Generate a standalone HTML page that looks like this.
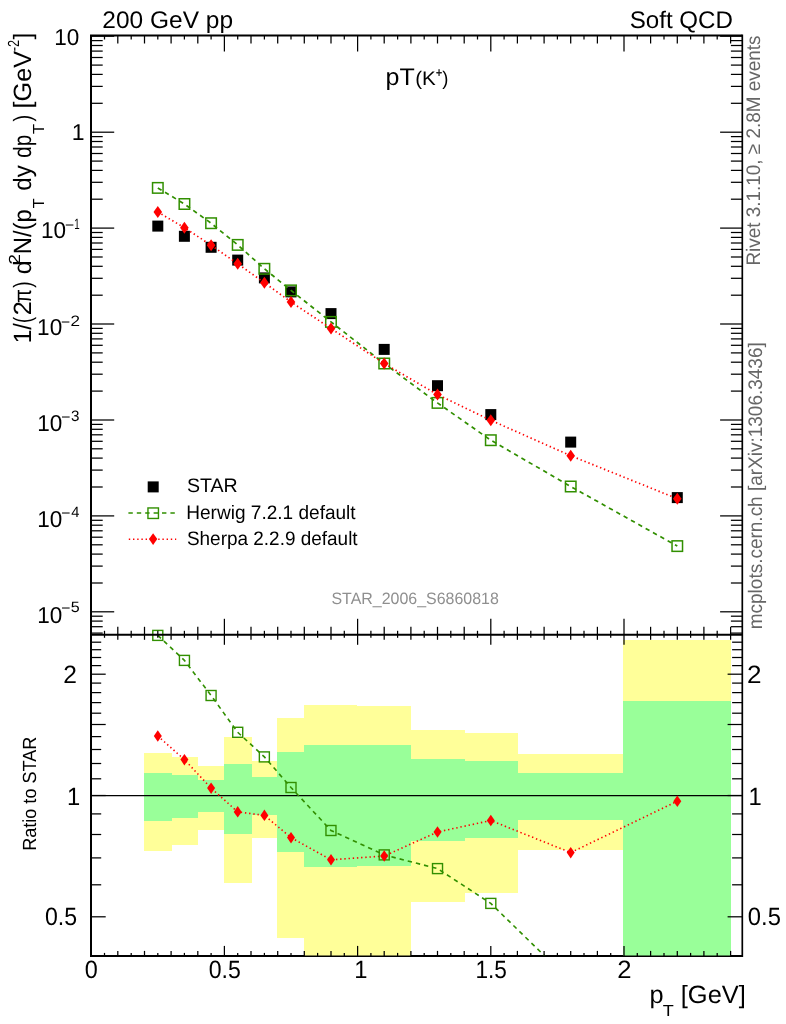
<!DOCTYPE html>
<html><head><meta charset="utf-8"><title>pT(K+)</title>
<style>html,body{margin:0;padding:0;background:#fff}svg{display:block;will-change:transform;transform:translateZ(0);text-rendering:geometricPrecision}</style></head>
<body>
<svg width="786" height="1024" viewBox="0 0 786 1024" font-family='"Liberation Sans", Arial, Helvetica, sans-serif'>
<rect width="786" height="1024" fill="#fff"/>
<defs><clipPath id="cr"><rect x="91.2" y="634.8" width="650.9" height="321.1"/></clipPath></defs>
<line x1="91.2" x2="742.1" y1="955.9" y2="955.9" stroke="#000" stroke-width="2"/>
<defs><clipPath id="cb"><rect x="91.2" y="634.8" width="650.9" height="321.40000000000003"/></clipPath></defs>
<g clip-path="url(#cb)" shape-rendering="crispEdges">
<rect x="144.0" y="753.1" width="28.0" height="97.7" fill="#ffff99"/>
<rect x="172.0" y="756.6" width="26.0" height="88.2" fill="#ffff99"/>
<rect x="198.0" y="766.2" width="26.0" height="63.7" fill="#ffff99"/>
<rect x="224.0" y="736.8" width="28.0" height="146.6" fill="#ffff99"/>
<rect x="252.0" y="760.7" width="25.0" height="77.5" fill="#ffff99"/>
<rect x="277.0" y="717.6" width="27.0" height="220.5" fill="#ffff99"/>
<rect x="304.0" y="705.2" width="53.0" height="285.0" fill="#ffff99"/>
<rect x="357.0" y="706.0" width="54.0" height="280.6" fill="#ffff99"/>
<rect x="411.0" y="729.5" width="54.0" height="172.3" fill="#ffff99"/>
<rect x="465.0" y="732.7" width="53.0" height="160.6" fill="#ffff99"/>
<rect x="518.0" y="753.7" width="105.0" height="96.0" fill="#ffff99"/>
<rect x="623.0" y="639.7" width="108.0" height="679.8" fill="#ffff99"/>
<rect x="144.0" y="772.9" width="28.0" height="47.9" fill="#99ff99"/>
<rect x="172.0" y="774.8" width="26.0" height="43.4" fill="#99ff99"/>
<rect x="198.0" y="780.1" width="26.0" height="31.6" fill="#99ff99"/>
<rect x="224.0" y="763.6" width="28.0" height="70.2" fill="#99ff99"/>
<rect x="252.0" y="777.1" width="25.0" height="38.3" fill="#99ff99"/>
<rect x="277.0" y="752.1" width="27.0" height="100.3" fill="#99ff99"/>
<rect x="304.0" y="744.5" width="53.0" height="122.4" fill="#99ff99"/>
<rect x="357.0" y="745.0" width="54.0" height="121.0" fill="#99ff99"/>
<rect x="411.0" y="759.3" width="54.0" height="81.2" fill="#99ff99"/>
<rect x="465.0" y="761.2" width="53.0" height="76.3" fill="#99ff99"/>
<rect x="518.0" y="773.2" width="105.0" height="47.1" fill="#99ff99"/>
<rect x="623.0" y="700.7" width="108.0" height="314.8" fill="#99ff99"/>
</g>
<rect x="152.3" y="220.6" width="11" height="11" fill="#000"/>
<rect x="178.9" y="230.8" width="11" height="11" fill="#000"/>
<rect x="205.6" y="241.8" width="11" height="11" fill="#000"/>
<rect x="232.2" y="254.6" width="11" height="11" fill="#000"/>
<rect x="258.9" y="272.4" width="11" height="11" fill="#000"/>
<rect x="285.5" y="286.4" width="11" height="11" fill="#000"/>
<rect x="325.5" y="308.1" width="11" height="11" fill="#000"/>
<rect x="378.7" y="343.9" width="11" height="11" fill="#000"/>
<rect x="432.0" y="380.2" width="11" height="11" fill="#000"/>
<rect x="485.3" y="409.1" width="11" height="11" fill="#000"/>
<rect x="565.2" y="436.6" width="11" height="11" fill="#000"/>
<rect x="671.8" y="492.1" width="11" height="11" fill="#000"/>
<polyline points="157.8,187.9 184.4,204.0 211.1,223.2 237.7,244.9 264.4,268.8 291.0,290.4 331.0,321.9 384.2,363.5 437.5,402.9 490.8,440.2 570.7,486.5 677.3,546.1" fill="none" stroke="#318f00" stroke-width="1.7" stroke-dasharray="4.4,4"/>
<rect x="152.55" y="182.65" width="10.5" height="10.5" fill="none" stroke="#318f00" stroke-width="1.5"/>
<rect x="179.19" y="198.75" width="10.5" height="10.5" fill="none" stroke="#318f00" stroke-width="1.5"/>
<rect x="205.83" y="217.95" width="10.5" height="10.5" fill="none" stroke="#318f00" stroke-width="1.5"/>
<rect x="232.47" y="239.65" width="10.5" height="10.5" fill="none" stroke="#318f00" stroke-width="1.5"/>
<rect x="259.11" y="263.55" width="10.5" height="10.5" fill="none" stroke="#318f00" stroke-width="1.5"/>
<rect x="285.75" y="285.15" width="10.5" height="10.5" fill="none" stroke="#318f00" stroke-width="1.5"/>
<rect x="325.71" y="316.65" width="10.5" height="10.5" fill="none" stroke="#318f00" stroke-width="1.5"/>
<rect x="378.99" y="358.25" width="10.5" height="10.5" fill="none" stroke="#318f00" stroke-width="1.5"/>
<rect x="432.27" y="397.65" width="10.5" height="10.5" fill="none" stroke="#318f00" stroke-width="1.5"/>
<rect x="485.55" y="434.95" width="10.5" height="10.5" fill="none" stroke="#318f00" stroke-width="1.5"/>
<rect x="565.47" y="481.25" width="10.5" height="10.5" fill="none" stroke="#318f00" stroke-width="1.5"/>
<rect x="672.03" y="540.85" width="10.5" height="10.5" fill="none" stroke="#318f00" stroke-width="1.5"/>
<polyline points="157.8,212.0 184.4,227.7 211.1,245.2 237.7,263.8 264.4,282.7 291.0,302.0 331.0,328.5 384.2,363.5 437.5,394.6 490.8,420.3 570.7,455.7 677.3,498.7" fill="none" stroke="#ff0000" stroke-width="1.7" stroke-dasharray="1.4,2.8"/>
<path d="M157.8 206.0L162.1 212.0L157.8 218.0L153.5 212.0Z" fill="#ff0000"/>
<path d="M184.4 221.7L188.7 227.7L184.4 233.7L180.1 227.7Z" fill="#ff0000"/>
<path d="M211.1 239.2L215.4 245.2L211.1 251.2L206.8 245.2Z" fill="#ff0000"/>
<path d="M237.7 257.8L242.0 263.8L237.7 269.8L233.4 263.8Z" fill="#ff0000"/>
<path d="M264.4 276.7L268.7 282.7L264.4 288.7L260.1 282.7Z" fill="#ff0000"/>
<path d="M291.0 296.0L295.3 302.0L291.0 308.0L286.7 302.0Z" fill="#ff0000"/>
<path d="M331.0 322.5L335.3 328.5L331.0 334.5L326.7 328.5Z" fill="#ff0000"/>
<path d="M384.2 357.5L388.5 363.5L384.2 369.5L379.9 363.5Z" fill="#ff0000"/>
<path d="M437.5 388.6L441.8 394.6L437.5 400.6L433.2 394.6Z" fill="#ff0000"/>
<path d="M490.8 414.3L495.1 420.3L490.8 426.3L486.5 420.3Z" fill="#ff0000"/>
<path d="M570.7 449.7L575.0 455.7L570.7 461.7L566.4 455.7Z" fill="#ff0000"/>
<path d="M677.3 492.7L681.6 498.7L677.3 504.7L673.0 498.7Z" fill="#ff0000"/>
<line x1="91.2" x2="742.1" y1="795.6" y2="795.6" stroke="#000" stroke-width="1.3"/>
<g clip-path="url(#cr)">
<polyline points="157.8,635.4 184.4,660.4 211.1,695.5 237.7,732.3 264.4,756.9 291.0,787.5 331.0,830.5 384.2,854.9 437.5,868.6 490.8,903.4 570.7,981.4 677.3,998.6" fill="none" stroke="#318f00" stroke-width="1.6" stroke-dasharray="4.4,4"/>
<polyline points="157.8,736.0 184.4,759.6 211.1,788.1 237.7,811.9 264.4,815.4 291.0,837.6 331.0,859.8 384.2,856.0 437.5,832.0 490.8,820.5 570.7,852.6 677.3,801.2" fill="none" stroke="#ff0000" stroke-width="1.6" stroke-dasharray="1.4,2.8"/>
</g>
<rect x="152.80" y="630.40" width="10" height="10" fill="none" stroke="#318f00" stroke-width="1.4"/>
<rect x="179.44" y="655.40" width="10" height="10" fill="none" stroke="#318f00" stroke-width="1.4"/>
<rect x="206.08" y="690.50" width="10" height="10" fill="none" stroke="#318f00" stroke-width="1.4"/>
<rect x="232.72" y="727.30" width="10" height="10" fill="none" stroke="#318f00" stroke-width="1.4"/>
<rect x="259.36" y="751.90" width="10" height="10" fill="none" stroke="#318f00" stroke-width="1.4"/>
<rect x="286.00" y="782.50" width="10" height="10" fill="none" stroke="#318f00" stroke-width="1.4"/>
<rect x="325.96" y="825.50" width="10" height="10" fill="none" stroke="#318f00" stroke-width="1.4"/>
<rect x="379.24" y="849.90" width="10" height="10" fill="none" stroke="#318f00" stroke-width="1.4"/>
<rect x="432.52" y="863.60" width="10" height="10" fill="none" stroke="#318f00" stroke-width="1.4"/>
<rect x="485.80" y="898.40" width="10" height="10" fill="none" stroke="#318f00" stroke-width="1.4"/>
<path d="M157.8 730.2L161.8 736.0L157.8 741.8L153.8 736.0Z" fill="#ff0000"/>
<path d="M184.4 753.9L188.4 759.6L184.4 765.4L180.4 759.6Z" fill="#ff0000"/>
<path d="M211.1 782.4L215.1 788.1L211.1 793.9L207.1 788.1Z" fill="#ff0000"/>
<path d="M237.7 806.1L241.7 811.9L237.7 817.6L233.7 811.9Z" fill="#ff0000"/>
<path d="M264.4 809.6L268.4 815.4L264.4 821.1L260.4 815.4Z" fill="#ff0000"/>
<path d="M291.0 831.9L295.0 837.6L291.0 843.4L287.0 837.6Z" fill="#ff0000"/>
<path d="M331.0 854.0L335.0 859.8L331.0 865.5L327.0 859.8Z" fill="#ff0000"/>
<path d="M384.2 850.2L388.2 856.0L384.2 861.8L380.2 856.0Z" fill="#ff0000"/>
<path d="M437.5 826.2L441.5 832.0L437.5 837.8L433.5 832.0Z" fill="#ff0000"/>
<path d="M490.8 814.8L494.8 820.5L490.8 826.2L486.8 820.5Z" fill="#ff0000"/>
<path d="M570.7 846.9L574.7 852.6L570.7 858.4L566.7 852.6Z" fill="#ff0000"/>
<path d="M677.3 795.5L681.3 801.2L677.3 807.0L673.3 801.2Z" fill="#ff0000"/>
<g stroke="#000" fill="none">
<path d="M91 956.9V35.5H742.1" stroke-width="2"/>
<line x1="742.3" x2="742.3" y1="34.5" y2="956.9" stroke-width="1.7"/>
<line x1="91.2" x2="742.1" y1="956.25" y2="956.25" stroke-width="1.3"/>
<line x1="91.2" x2="742.1" y1="634.8" y2="634.8" stroke-width="2"/>
<line x1="91.2" x2="91.2" y1="35.5" y2="51.5" stroke-width="1.25"/>
<line x1="91.2" x2="91.2" y1="618.8" y2="644.8" stroke-width="1.25"/>
<line x1="91.2" x2="91.2" y1="955.9" y2="945.9" stroke-width="1.25"/>
<line x1="104.5" x2="104.5" y1="35.5" y2="39.5" stroke-width="1.25"/>
<line x1="104.5" x2="104.5" y1="630.8" y2="637.8" stroke-width="1.25"/>
<line x1="104.5" x2="104.5" y1="955.9" y2="952.9" stroke-width="1.25"/>
<line x1="117.8" x2="117.8" y1="35.5" y2="43.5" stroke-width="1.25"/>
<line x1="117.8" x2="117.8" y1="626.8" y2="639.8" stroke-width="1.25"/>
<line x1="117.8" x2="117.8" y1="955.9" y2="950.9" stroke-width="1.25"/>
<line x1="131.2" x2="131.2" y1="35.5" y2="39.5" stroke-width="1.25"/>
<line x1="131.2" x2="131.2" y1="630.8" y2="637.8" stroke-width="1.25"/>
<line x1="131.2" x2="131.2" y1="955.9" y2="952.9" stroke-width="1.25"/>
<line x1="144.5" x2="144.5" y1="35.5" y2="43.5" stroke-width="1.25"/>
<line x1="144.5" x2="144.5" y1="626.8" y2="639.8" stroke-width="1.25"/>
<line x1="144.5" x2="144.5" y1="955.9" y2="950.9" stroke-width="1.25"/>
<line x1="157.8" x2="157.8" y1="35.5" y2="39.5" stroke-width="1.25"/>
<line x1="157.8" x2="157.8" y1="630.8" y2="637.8" stroke-width="1.25"/>
<line x1="157.8" x2="157.8" y1="955.9" y2="952.9" stroke-width="1.25"/>
<line x1="171.1" x2="171.1" y1="35.5" y2="43.5" stroke-width="1.25"/>
<line x1="171.1" x2="171.1" y1="626.8" y2="639.8" stroke-width="1.25"/>
<line x1="171.1" x2="171.1" y1="955.9" y2="950.9" stroke-width="1.25"/>
<line x1="184.4" x2="184.4" y1="35.5" y2="39.5" stroke-width="1.25"/>
<line x1="184.4" x2="184.4" y1="630.8" y2="637.8" stroke-width="1.25"/>
<line x1="184.4" x2="184.4" y1="955.9" y2="952.9" stroke-width="1.25"/>
<line x1="197.8" x2="197.8" y1="35.5" y2="43.5" stroke-width="1.25"/>
<line x1="197.8" x2="197.8" y1="626.8" y2="639.8" stroke-width="1.25"/>
<line x1="197.8" x2="197.8" y1="955.9" y2="950.9" stroke-width="1.25"/>
<line x1="211.1" x2="211.1" y1="35.5" y2="39.5" stroke-width="1.25"/>
<line x1="211.1" x2="211.1" y1="630.8" y2="637.8" stroke-width="1.25"/>
<line x1="211.1" x2="211.1" y1="955.9" y2="952.9" stroke-width="1.25"/>
<line x1="224.4" x2="224.4" y1="35.5" y2="51.5" stroke-width="1.25"/>
<line x1="224.4" x2="224.4" y1="618.8" y2="644.8" stroke-width="1.25"/>
<line x1="224.4" x2="224.4" y1="955.9" y2="945.9" stroke-width="1.25"/>
<line x1="237.7" x2="237.7" y1="35.5" y2="39.5" stroke-width="1.25"/>
<line x1="237.7" x2="237.7" y1="630.8" y2="637.8" stroke-width="1.25"/>
<line x1="237.7" x2="237.7" y1="955.9" y2="952.9" stroke-width="1.25"/>
<line x1="251.0" x2="251.0" y1="35.5" y2="43.5" stroke-width="1.25"/>
<line x1="251.0" x2="251.0" y1="626.8" y2="639.8" stroke-width="1.25"/>
<line x1="251.0" x2="251.0" y1="955.9" y2="950.9" stroke-width="1.25"/>
<line x1="264.4" x2="264.4" y1="35.5" y2="39.5" stroke-width="1.25"/>
<line x1="264.4" x2="264.4" y1="630.8" y2="637.8" stroke-width="1.25"/>
<line x1="264.4" x2="264.4" y1="955.9" y2="952.9" stroke-width="1.25"/>
<line x1="277.7" x2="277.7" y1="35.5" y2="43.5" stroke-width="1.25"/>
<line x1="277.7" x2="277.7" y1="626.8" y2="639.8" stroke-width="1.25"/>
<line x1="277.7" x2="277.7" y1="955.9" y2="950.9" stroke-width="1.25"/>
<line x1="291.0" x2="291.0" y1="35.5" y2="39.5" stroke-width="1.25"/>
<line x1="291.0" x2="291.0" y1="630.8" y2="637.8" stroke-width="1.25"/>
<line x1="291.0" x2="291.0" y1="955.9" y2="952.9" stroke-width="1.25"/>
<line x1="304.3" x2="304.3" y1="35.5" y2="43.5" stroke-width="1.25"/>
<line x1="304.3" x2="304.3" y1="626.8" y2="639.8" stroke-width="1.25"/>
<line x1="304.3" x2="304.3" y1="955.9" y2="950.9" stroke-width="1.25"/>
<line x1="317.6" x2="317.6" y1="35.5" y2="39.5" stroke-width="1.25"/>
<line x1="317.6" x2="317.6" y1="630.8" y2="637.8" stroke-width="1.25"/>
<line x1="317.6" x2="317.6" y1="955.9" y2="952.9" stroke-width="1.25"/>
<line x1="331.0" x2="331.0" y1="35.5" y2="43.5" stroke-width="1.25"/>
<line x1="331.0" x2="331.0" y1="626.8" y2="639.8" stroke-width="1.25"/>
<line x1="331.0" x2="331.0" y1="955.9" y2="950.9" stroke-width="1.25"/>
<line x1="344.3" x2="344.3" y1="35.5" y2="39.5" stroke-width="1.25"/>
<line x1="344.3" x2="344.3" y1="630.8" y2="637.8" stroke-width="1.25"/>
<line x1="344.3" x2="344.3" y1="955.9" y2="952.9" stroke-width="1.25"/>
<line x1="357.6" x2="357.6" y1="35.5" y2="51.5" stroke-width="1.25"/>
<line x1="357.6" x2="357.6" y1="618.8" y2="644.8" stroke-width="1.25"/>
<line x1="357.6" x2="357.6" y1="955.9" y2="945.9" stroke-width="1.25"/>
<line x1="370.9" x2="370.9" y1="35.5" y2="39.5" stroke-width="1.25"/>
<line x1="370.9" x2="370.9" y1="630.8" y2="637.8" stroke-width="1.25"/>
<line x1="370.9" x2="370.9" y1="955.9" y2="952.9" stroke-width="1.25"/>
<line x1="384.2" x2="384.2" y1="35.5" y2="43.5" stroke-width="1.25"/>
<line x1="384.2" x2="384.2" y1="626.8" y2="639.8" stroke-width="1.25"/>
<line x1="384.2" x2="384.2" y1="955.9" y2="950.9" stroke-width="1.25"/>
<line x1="397.6" x2="397.6" y1="35.5" y2="39.5" stroke-width="1.25"/>
<line x1="397.6" x2="397.6" y1="630.8" y2="637.8" stroke-width="1.25"/>
<line x1="397.6" x2="397.6" y1="955.9" y2="952.9" stroke-width="1.25"/>
<line x1="410.9" x2="410.9" y1="35.5" y2="43.5" stroke-width="1.25"/>
<line x1="410.9" x2="410.9" y1="626.8" y2="639.8" stroke-width="1.25"/>
<line x1="410.9" x2="410.9" y1="955.9" y2="950.9" stroke-width="1.25"/>
<line x1="424.2" x2="424.2" y1="35.5" y2="39.5" stroke-width="1.25"/>
<line x1="424.2" x2="424.2" y1="630.8" y2="637.8" stroke-width="1.25"/>
<line x1="424.2" x2="424.2" y1="955.9" y2="952.9" stroke-width="1.25"/>
<line x1="437.5" x2="437.5" y1="35.5" y2="43.5" stroke-width="1.25"/>
<line x1="437.5" x2="437.5" y1="626.8" y2="639.8" stroke-width="1.25"/>
<line x1="437.5" x2="437.5" y1="955.9" y2="950.9" stroke-width="1.25"/>
<line x1="450.8" x2="450.8" y1="35.5" y2="39.5" stroke-width="1.25"/>
<line x1="450.8" x2="450.8" y1="630.8" y2="637.8" stroke-width="1.25"/>
<line x1="450.8" x2="450.8" y1="955.9" y2="952.9" stroke-width="1.25"/>
<line x1="464.2" x2="464.2" y1="35.5" y2="43.5" stroke-width="1.25"/>
<line x1="464.2" x2="464.2" y1="626.8" y2="639.8" stroke-width="1.25"/>
<line x1="464.2" x2="464.2" y1="955.9" y2="950.9" stroke-width="1.25"/>
<line x1="477.5" x2="477.5" y1="35.5" y2="39.5" stroke-width="1.25"/>
<line x1="477.5" x2="477.5" y1="630.8" y2="637.8" stroke-width="1.25"/>
<line x1="477.5" x2="477.5" y1="955.9" y2="952.9" stroke-width="1.25"/>
<line x1="490.8" x2="490.8" y1="35.5" y2="51.5" stroke-width="1.25"/>
<line x1="490.8" x2="490.8" y1="618.8" y2="644.8" stroke-width="1.25"/>
<line x1="490.8" x2="490.8" y1="955.9" y2="945.9" stroke-width="1.25"/>
<line x1="504.1" x2="504.1" y1="35.5" y2="39.5" stroke-width="1.25"/>
<line x1="504.1" x2="504.1" y1="630.8" y2="637.8" stroke-width="1.25"/>
<line x1="504.1" x2="504.1" y1="955.9" y2="952.9" stroke-width="1.25"/>
<line x1="517.4" x2="517.4" y1="35.5" y2="43.5" stroke-width="1.25"/>
<line x1="517.4" x2="517.4" y1="626.8" y2="639.8" stroke-width="1.25"/>
<line x1="517.4" x2="517.4" y1="955.9" y2="950.9" stroke-width="1.25"/>
<line x1="530.8" x2="530.8" y1="35.5" y2="39.5" stroke-width="1.25"/>
<line x1="530.8" x2="530.8" y1="630.8" y2="637.8" stroke-width="1.25"/>
<line x1="530.8" x2="530.8" y1="955.9" y2="952.9" stroke-width="1.25"/>
<line x1="544.1" x2="544.1" y1="35.5" y2="43.5" stroke-width="1.25"/>
<line x1="544.1" x2="544.1" y1="626.8" y2="639.8" stroke-width="1.25"/>
<line x1="544.1" x2="544.1" y1="955.9" y2="950.9" stroke-width="1.25"/>
<line x1="557.4" x2="557.4" y1="35.5" y2="39.5" stroke-width="1.25"/>
<line x1="557.4" x2="557.4" y1="630.8" y2="637.8" stroke-width="1.25"/>
<line x1="557.4" x2="557.4" y1="955.9" y2="952.9" stroke-width="1.25"/>
<line x1="570.7" x2="570.7" y1="35.5" y2="43.5" stroke-width="1.25"/>
<line x1="570.7" x2="570.7" y1="626.8" y2="639.8" stroke-width="1.25"/>
<line x1="570.7" x2="570.7" y1="955.9" y2="950.9" stroke-width="1.25"/>
<line x1="584.0" x2="584.0" y1="35.5" y2="39.5" stroke-width="1.25"/>
<line x1="584.0" x2="584.0" y1="630.8" y2="637.8" stroke-width="1.25"/>
<line x1="584.0" x2="584.0" y1="955.9" y2="952.9" stroke-width="1.25"/>
<line x1="597.4" x2="597.4" y1="35.5" y2="43.5" stroke-width="1.25"/>
<line x1="597.4" x2="597.4" y1="626.8" y2="639.8" stroke-width="1.25"/>
<line x1="597.4" x2="597.4" y1="955.9" y2="950.9" stroke-width="1.25"/>
<line x1="610.7" x2="610.7" y1="35.5" y2="39.5" stroke-width="1.25"/>
<line x1="610.7" x2="610.7" y1="630.8" y2="637.8" stroke-width="1.25"/>
<line x1="610.7" x2="610.7" y1="955.9" y2="952.9" stroke-width="1.25"/>
<line x1="624.0" x2="624.0" y1="35.5" y2="51.5" stroke-width="1.25"/>
<line x1="624.0" x2="624.0" y1="618.8" y2="644.8" stroke-width="1.25"/>
<line x1="624.0" x2="624.0" y1="955.9" y2="945.9" stroke-width="1.25"/>
<line x1="637.3" x2="637.3" y1="35.5" y2="39.5" stroke-width="1.25"/>
<line x1="637.3" x2="637.3" y1="630.8" y2="637.8" stroke-width="1.25"/>
<line x1="637.3" x2="637.3" y1="955.9" y2="952.9" stroke-width="1.25"/>
<line x1="650.6" x2="650.6" y1="35.5" y2="43.5" stroke-width="1.25"/>
<line x1="650.6" x2="650.6" y1="626.8" y2="639.8" stroke-width="1.25"/>
<line x1="650.6" x2="650.6" y1="955.9" y2="950.9" stroke-width="1.25"/>
<line x1="664.0" x2="664.0" y1="35.5" y2="39.5" stroke-width="1.25"/>
<line x1="664.0" x2="664.0" y1="630.8" y2="637.8" stroke-width="1.25"/>
<line x1="664.0" x2="664.0" y1="955.9" y2="952.9" stroke-width="1.25"/>
<line x1="677.3" x2="677.3" y1="35.5" y2="43.5" stroke-width="1.25"/>
<line x1="677.3" x2="677.3" y1="626.8" y2="639.8" stroke-width="1.25"/>
<line x1="677.3" x2="677.3" y1="955.9" y2="950.9" stroke-width="1.25"/>
<line x1="690.6" x2="690.6" y1="35.5" y2="39.5" stroke-width="1.25"/>
<line x1="690.6" x2="690.6" y1="630.8" y2="637.8" stroke-width="1.25"/>
<line x1="690.6" x2="690.6" y1="955.9" y2="952.9" stroke-width="1.25"/>
<line x1="703.9" x2="703.9" y1="35.5" y2="43.5" stroke-width="1.25"/>
<line x1="703.9" x2="703.9" y1="626.8" y2="639.8" stroke-width="1.25"/>
<line x1="703.9" x2="703.9" y1="955.9" y2="950.9" stroke-width="1.25"/>
<line x1="717.2" x2="717.2" y1="35.5" y2="39.5" stroke-width="1.25"/>
<line x1="717.2" x2="717.2" y1="630.8" y2="637.8" stroke-width="1.25"/>
<line x1="717.2" x2="717.2" y1="955.9" y2="952.9" stroke-width="1.25"/>
<line x1="730.6" x2="730.6" y1="35.5" y2="43.5" stroke-width="1.25"/>
<line x1="730.6" x2="730.6" y1="626.8" y2="639.8" stroke-width="1.25"/>
<line x1="730.6" x2="730.6" y1="955.9" y2="950.9" stroke-width="1.25"/>
<line x1="91.2" x2="114.2" y1="36.2" y2="36.2" stroke-width="1.25"/>
<line x1="742.1" x2="720.1" y1="36.2" y2="36.2" stroke-width="1.25"/>
<line x1="91.2" x2="114.2" y1="132.2" y2="132.2" stroke-width="1.25"/>
<line x1="742.1" x2="720.1" y1="132.2" y2="132.2" stroke-width="1.25"/>
<line x1="91.2" x2="102.7" y1="103.3" y2="103.3" stroke-width="1.25"/>
<line x1="742.1" x2="730.9" y1="103.3" y2="103.3" stroke-width="1.25"/>
<line x1="91.2" x2="102.7" y1="86.4" y2="86.4" stroke-width="1.25"/>
<line x1="742.1" x2="730.9" y1="86.4" y2="86.4" stroke-width="1.25"/>
<line x1="91.2" x2="102.7" y1="74.4" y2="74.4" stroke-width="1.25"/>
<line x1="742.1" x2="730.9" y1="74.4" y2="74.4" stroke-width="1.25"/>
<line x1="91.2" x2="102.7" y1="65.1" y2="65.1" stroke-width="1.25"/>
<line x1="742.1" x2="730.9" y1="65.1" y2="65.1" stroke-width="1.25"/>
<line x1="91.2" x2="102.7" y1="57.5" y2="57.5" stroke-width="1.25"/>
<line x1="742.1" x2="730.9" y1="57.5" y2="57.5" stroke-width="1.25"/>
<line x1="91.2" x2="102.7" y1="51.1" y2="51.1" stroke-width="1.25"/>
<line x1="742.1" x2="730.9" y1="51.1" y2="51.1" stroke-width="1.25"/>
<line x1="91.2" x2="102.7" y1="45.5" y2="45.5" stroke-width="1.25"/>
<line x1="742.1" x2="730.9" y1="45.5" y2="45.5" stroke-width="1.25"/>
<line x1="91.2" x2="102.7" y1="40.6" y2="40.6" stroke-width="1.25"/>
<line x1="742.1" x2="730.9" y1="40.6" y2="40.6" stroke-width="1.25"/>
<line x1="91.2" x2="114.2" y1="228.1" y2="228.1" stroke-width="1.25"/>
<line x1="742.1" x2="720.1" y1="228.1" y2="228.1" stroke-width="1.25"/>
<line x1="91.2" x2="102.7" y1="199.2" y2="199.2" stroke-width="1.25"/>
<line x1="742.1" x2="730.9" y1="199.2" y2="199.2" stroke-width="1.25"/>
<line x1="91.2" x2="102.7" y1="182.3" y2="182.3" stroke-width="1.25"/>
<line x1="742.1" x2="730.9" y1="182.3" y2="182.3" stroke-width="1.25"/>
<line x1="91.2" x2="102.7" y1="170.4" y2="170.4" stroke-width="1.25"/>
<line x1="742.1" x2="730.9" y1="170.4" y2="170.4" stroke-width="1.25"/>
<line x1="91.2" x2="102.7" y1="161.1" y2="161.1" stroke-width="1.25"/>
<line x1="742.1" x2="730.9" y1="161.1" y2="161.1" stroke-width="1.25"/>
<line x1="91.2" x2="102.7" y1="153.5" y2="153.5" stroke-width="1.25"/>
<line x1="742.1" x2="730.9" y1="153.5" y2="153.5" stroke-width="1.25"/>
<line x1="91.2" x2="102.7" y1="147.0" y2="147.0" stroke-width="1.25"/>
<line x1="742.1" x2="730.9" y1="147.0" y2="147.0" stroke-width="1.25"/>
<line x1="91.2" x2="102.7" y1="141.5" y2="141.5" stroke-width="1.25"/>
<line x1="742.1" x2="730.9" y1="141.5" y2="141.5" stroke-width="1.25"/>
<line x1="91.2" x2="102.7" y1="136.6" y2="136.6" stroke-width="1.25"/>
<line x1="742.1" x2="730.9" y1="136.6" y2="136.6" stroke-width="1.25"/>
<line x1="91.2" x2="114.2" y1="324.0" y2="324.0" stroke-width="1.25"/>
<line x1="742.1" x2="720.1" y1="324.0" y2="324.0" stroke-width="1.25"/>
<line x1="91.2" x2="102.7" y1="295.2" y2="295.2" stroke-width="1.25"/>
<line x1="742.1" x2="730.9" y1="295.2" y2="295.2" stroke-width="1.25"/>
<line x1="91.2" x2="102.7" y1="278.3" y2="278.3" stroke-width="1.25"/>
<line x1="742.1" x2="730.9" y1="278.3" y2="278.3" stroke-width="1.25"/>
<line x1="91.2" x2="102.7" y1="266.3" y2="266.3" stroke-width="1.25"/>
<line x1="742.1" x2="730.9" y1="266.3" y2="266.3" stroke-width="1.25"/>
<line x1="91.2" x2="102.7" y1="257.0" y2="257.0" stroke-width="1.25"/>
<line x1="742.1" x2="730.9" y1="257.0" y2="257.0" stroke-width="1.25"/>
<line x1="91.2" x2="102.7" y1="249.4" y2="249.4" stroke-width="1.25"/>
<line x1="742.1" x2="730.9" y1="249.4" y2="249.4" stroke-width="1.25"/>
<line x1="91.2" x2="102.7" y1="243.0" y2="243.0" stroke-width="1.25"/>
<line x1="742.1" x2="730.9" y1="243.0" y2="243.0" stroke-width="1.25"/>
<line x1="91.2" x2="102.7" y1="237.4" y2="237.4" stroke-width="1.25"/>
<line x1="742.1" x2="730.9" y1="237.4" y2="237.4" stroke-width="1.25"/>
<line x1="91.2" x2="102.7" y1="232.5" y2="232.5" stroke-width="1.25"/>
<line x1="742.1" x2="730.9" y1="232.5" y2="232.5" stroke-width="1.25"/>
<line x1="91.2" x2="114.2" y1="420.0" y2="420.0" stroke-width="1.25"/>
<line x1="742.1" x2="720.1" y1="420.0" y2="420.0" stroke-width="1.25"/>
<line x1="91.2" x2="102.7" y1="391.1" y2="391.1" stroke-width="1.25"/>
<line x1="742.1" x2="730.9" y1="391.1" y2="391.1" stroke-width="1.25"/>
<line x1="91.2" x2="102.7" y1="374.2" y2="374.2" stroke-width="1.25"/>
<line x1="742.1" x2="730.9" y1="374.2" y2="374.2" stroke-width="1.25"/>
<line x1="91.2" x2="102.7" y1="362.2" y2="362.2" stroke-width="1.25"/>
<line x1="742.1" x2="730.9" y1="362.2" y2="362.2" stroke-width="1.25"/>
<line x1="91.2" x2="102.7" y1="352.9" y2="352.9" stroke-width="1.25"/>
<line x1="742.1" x2="730.9" y1="352.9" y2="352.9" stroke-width="1.25"/>
<line x1="91.2" x2="102.7" y1="345.3" y2="345.3" stroke-width="1.25"/>
<line x1="742.1" x2="730.9" y1="345.3" y2="345.3" stroke-width="1.25"/>
<line x1="91.2" x2="102.7" y1="338.9" y2="338.9" stroke-width="1.25"/>
<line x1="742.1" x2="730.9" y1="338.9" y2="338.9" stroke-width="1.25"/>
<line x1="91.2" x2="102.7" y1="333.3" y2="333.3" stroke-width="1.25"/>
<line x1="742.1" x2="730.9" y1="333.3" y2="333.3" stroke-width="1.25"/>
<line x1="91.2" x2="102.7" y1="328.4" y2="328.4" stroke-width="1.25"/>
<line x1="742.1" x2="730.9" y1="328.4" y2="328.4" stroke-width="1.25"/>
<line x1="91.2" x2="114.2" y1="515.9" y2="515.9" stroke-width="1.25"/>
<line x1="742.1" x2="720.1" y1="515.9" y2="515.9" stroke-width="1.25"/>
<line x1="91.2" x2="102.7" y1="487.0" y2="487.0" stroke-width="1.25"/>
<line x1="742.1" x2="730.9" y1="487.0" y2="487.0" stroke-width="1.25"/>
<line x1="91.2" x2="102.7" y1="470.1" y2="470.1" stroke-width="1.25"/>
<line x1="742.1" x2="730.9" y1="470.1" y2="470.1" stroke-width="1.25"/>
<line x1="91.2" x2="102.7" y1="458.1" y2="458.1" stroke-width="1.25"/>
<line x1="742.1" x2="730.9" y1="458.1" y2="458.1" stroke-width="1.25"/>
<line x1="91.2" x2="102.7" y1="448.8" y2="448.8" stroke-width="1.25"/>
<line x1="742.1" x2="730.9" y1="448.8" y2="448.8" stroke-width="1.25"/>
<line x1="91.2" x2="102.7" y1="441.3" y2="441.3" stroke-width="1.25"/>
<line x1="742.1" x2="730.9" y1="441.3" y2="441.3" stroke-width="1.25"/>
<line x1="91.2" x2="102.7" y1="434.8" y2="434.8" stroke-width="1.25"/>
<line x1="742.1" x2="730.9" y1="434.8" y2="434.8" stroke-width="1.25"/>
<line x1="91.2" x2="102.7" y1="429.3" y2="429.3" stroke-width="1.25"/>
<line x1="742.1" x2="730.9" y1="429.3" y2="429.3" stroke-width="1.25"/>
<line x1="91.2" x2="102.7" y1="424.4" y2="424.4" stroke-width="1.25"/>
<line x1="742.1" x2="730.9" y1="424.4" y2="424.4" stroke-width="1.25"/>
<line x1="91.2" x2="114.2" y1="611.8" y2="611.8" stroke-width="1.25"/>
<line x1="742.1" x2="720.1" y1="611.8" y2="611.8" stroke-width="1.25"/>
<line x1="91.2" x2="102.7" y1="583.0" y2="583.0" stroke-width="1.25"/>
<line x1="742.1" x2="730.9" y1="583.0" y2="583.0" stroke-width="1.25"/>
<line x1="91.2" x2="102.7" y1="566.1" y2="566.1" stroke-width="1.25"/>
<line x1="742.1" x2="730.9" y1="566.1" y2="566.1" stroke-width="1.25"/>
<line x1="91.2" x2="102.7" y1="554.1" y2="554.1" stroke-width="1.25"/>
<line x1="742.1" x2="730.9" y1="554.1" y2="554.1" stroke-width="1.25"/>
<line x1="91.2" x2="102.7" y1="544.8" y2="544.8" stroke-width="1.25"/>
<line x1="742.1" x2="730.9" y1="544.8" y2="544.8" stroke-width="1.25"/>
<line x1="91.2" x2="102.7" y1="537.2" y2="537.2" stroke-width="1.25"/>
<line x1="742.1" x2="730.9" y1="537.2" y2="537.2" stroke-width="1.25"/>
<line x1="91.2" x2="102.7" y1="530.8" y2="530.8" stroke-width="1.25"/>
<line x1="742.1" x2="730.9" y1="530.8" y2="530.8" stroke-width="1.25"/>
<line x1="91.2" x2="102.7" y1="525.2" y2="525.2" stroke-width="1.25"/>
<line x1="742.1" x2="730.9" y1="525.2" y2="525.2" stroke-width="1.25"/>
<line x1="91.2" x2="102.7" y1="520.3" y2="520.3" stroke-width="1.25"/>
<line x1="742.1" x2="730.9" y1="520.3" y2="520.3" stroke-width="1.25"/>
<line x1="91.2" x2="102.7" y1="633.1" y2="633.1" stroke-width="1.25"/>
<line x1="742.1" x2="730.9" y1="633.1" y2="633.1" stroke-width="1.25"/>
<line x1="91.2" x2="102.7" y1="626.7" y2="626.7" stroke-width="1.25"/>
<line x1="742.1" x2="730.9" y1="626.7" y2="626.7" stroke-width="1.25"/>
<line x1="91.2" x2="102.7" y1="621.1" y2="621.1" stroke-width="1.25"/>
<line x1="742.1" x2="730.9" y1="621.1" y2="621.1" stroke-width="1.25"/>
<line x1="91.2" x2="102.7" y1="616.2" y2="616.2" stroke-width="1.25"/>
<line x1="742.1" x2="730.9" y1="616.2" y2="616.2" stroke-width="1.25"/>
<line x1="91.2" x2="105.7" y1="916.8" y2="916.8" stroke-width="1.25"/>
<line x1="742.1" x2="727.6" y1="916.8" y2="916.8" stroke-width="1.25"/>
<line x1="91.2" x2="101.2" y1="884.8" y2="884.8" stroke-width="1.25"/>
<line x1="742.1" x2="732.1" y1="884.8" y2="884.8" stroke-width="1.25"/>
<line x1="91.2" x2="101.2" y1="857.9" y2="857.9" stroke-width="1.25"/>
<line x1="742.1" x2="732.1" y1="857.9" y2="857.9" stroke-width="1.25"/>
<line x1="91.2" x2="101.2" y1="834.5" y2="834.5" stroke-width="1.25"/>
<line x1="742.1" x2="732.1" y1="834.5" y2="834.5" stroke-width="1.25"/>
<line x1="91.2" x2="101.2" y1="813.9" y2="813.9" stroke-width="1.25"/>
<line x1="742.1" x2="732.1" y1="813.9" y2="813.9" stroke-width="1.25"/>
<line x1="91.2" x2="105.7" y1="795.5" y2="795.5" stroke-width="1.25"/>
<line x1="742.1" x2="727.6" y1="795.5" y2="795.5" stroke-width="1.25"/>
<line x1="91.2" x2="101.2" y1="778.8" y2="778.8" stroke-width="1.25"/>
<line x1="742.1" x2="732.1" y1="778.8" y2="778.8" stroke-width="1.25"/>
<line x1="91.2" x2="101.2" y1="763.5" y2="763.5" stroke-width="1.25"/>
<line x1="742.1" x2="732.1" y1="763.5" y2="763.5" stroke-width="1.25"/>
<line x1="91.2" x2="101.2" y1="749.5" y2="749.5" stroke-width="1.25"/>
<line x1="742.1" x2="732.1" y1="749.5" y2="749.5" stroke-width="1.25"/>
<line x1="91.2" x2="101.2" y1="736.6" y2="736.6" stroke-width="1.25"/>
<line x1="742.1" x2="732.1" y1="736.6" y2="736.6" stroke-width="1.25"/>
<line x1="91.2" x2="105.7" y1="724.5" y2="724.5" stroke-width="1.25"/>
<line x1="742.1" x2="727.6" y1="724.5" y2="724.5" stroke-width="1.25"/>
<line x1="91.2" x2="101.2" y1="713.2" y2="713.2" stroke-width="1.25"/>
<line x1="742.1" x2="732.1" y1="713.2" y2="713.2" stroke-width="1.25"/>
<line x1="91.2" x2="101.2" y1="702.6" y2="702.6" stroke-width="1.25"/>
<line x1="742.1" x2="732.1" y1="702.6" y2="702.6" stroke-width="1.25"/>
<line x1="91.2" x2="101.2" y1="692.6" y2="692.6" stroke-width="1.25"/>
<line x1="742.1" x2="732.1" y1="692.6" y2="692.6" stroke-width="1.25"/>
<line x1="91.2" x2="101.2" y1="683.1" y2="683.1" stroke-width="1.25"/>
<line x1="742.1" x2="732.1" y1="683.1" y2="683.1" stroke-width="1.25"/>
<line x1="91.2" x2="105.7" y1="674.2" y2="674.2" stroke-width="1.25"/>
<line x1="742.1" x2="727.6" y1="674.2" y2="674.2" stroke-width="1.25"/>
<line x1="91.2" x2="101.2" y1="665.6" y2="665.6" stroke-width="1.25"/>
<line x1="742.1" x2="732.1" y1="665.6" y2="665.6" stroke-width="1.25"/>
<line x1="91.2" x2="101.2" y1="657.5" y2="657.5" stroke-width="1.25"/>
<line x1="742.1" x2="732.1" y1="657.5" y2="657.5" stroke-width="1.25"/>
<line x1="91.2" x2="101.2" y1="649.7" y2="649.7" stroke-width="1.25"/>
<line x1="742.1" x2="732.1" y1="649.7" y2="649.7" stroke-width="1.25"/>
<line x1="91.2" x2="101.2" y1="642.2" y2="642.2" stroke-width="1.25"/>
<line x1="742.1" x2="732.1" y1="642.2" y2="642.2" stroke-width="1.25"/>
</g>
<text x="102.37" y="28.2" font-size="24" textLength="130.66" lengthAdjust="spacingAndGlyphs">200 GeV pp</text>
<text x="629.70" y="28.4" font-size="24" textLength="103.25" lengthAdjust="spacingAndGlyphs">Soft QCD</text>
<text x="385.59" y="85.3" font-size="24" textLength="29.19" lengthAdjust="spacingAndGlyphs">pT</text>
<text x="415.22" y="85.3" font-size="19.8" textLength="20.61" lengthAdjust="spacingAndGlyphs">(K</text>
<text x="435.89" y="77.2" font-size="13" textLength="6.13" lengthAdjust="spacingAndGlyphs" stroke="#000" stroke-width="0.35">+</text>
<text x="442.29" y="85.3" font-size="19.8" textLength="6.15" lengthAdjust="spacingAndGlyphs">)</text>
<text x="331.48" y="604.3" font-size="16.5" textLength="167.31" lengthAdjust="spacingAndGlyphs" fill="#8f8f8f">STAR_2006_S6860818</text>
<rect x="147.7" y="481.4" width="11" height="11" fill="#000"/>
<line x1="128.4" x2="175" y1="513.0" y2="513.0" stroke="#318f00" stroke-width="1.35" stroke-dasharray="4.4,4"/>
<rect x="147.95" y="507.95" width="10.5" height="10.5" fill="none" stroke="#318f00" stroke-width="1.4"/>
<line x1="128.8" x2="176.2" y1="539.25" y2="539.25" stroke="#ff0000" stroke-width="1.5" stroke-dasharray="1.4,2.8"/>
<path d="M153.1 533.3L157.3 539.1L153.1 544.9L148.9 539.1Z" fill="#ff0000"/>
<text x="186.94" y="492.4" font-size="19.5" textLength="50.75" lengthAdjust="spacingAndGlyphs">STAR</text>
<text x="186.24" y="518.8" font-size="19.5" textLength="169.40" lengthAdjust="spacingAndGlyphs">Herwig 7.2.1 default</text>
<text x="186.94" y="544.7" font-size="19.5" textLength="170.70" lengthAdjust="spacingAndGlyphs">Sherpa 2.2.9 default</text>
<g transform="translate(760.2,0) rotate(-90)" fill="#666666">
<text x="-265.55" y="0" font-size="19.6" textLength="229.93" lengthAdjust="spacingAndGlyphs">Rivet 3.1.10, ≥ 2.8M events</text>
<text x="-629.26" y="1.3" font-size="19.6" textLength="287.01" lengthAdjust="spacingAndGlyphs">mcplots.cern.ch [arXiv:1306.3436]</text>
</g>
<g transform="translate(31.2,342) rotate(-90)">
<text x="-1.6" y="0" font-size="25">1</text>
<text x="12.20" y="0" font-size="25" textLength="6.60" lengthAdjust="spacingAndGlyphs">/</text>
<text x="19.08" y="0" font-size="25" textLength="6.03" lengthAdjust="spacingAndGlyphs">(</text>
<text x="26.84" y="0" font-size="25" textLength="13.92" lengthAdjust="spacingAndGlyphs">2</text>
<text x="38.92" y="0" font-size="25" textLength="13.97" lengthAdjust="spacingAndGlyphs">π</text>
<text x="54.19" y="0" font-size="25" textLength="6.41" lengthAdjust="spacingAndGlyphs">)</text>
<text x="67.75" y="0" font-size="25" textLength="13.85" lengthAdjust="spacingAndGlyphs">d</text>
<text x="77.45" y="-11" font-size="16" textLength="10.50" lengthAdjust="spacingAndGlyphs">2</text>
<text x="87.85" y="0" font-size="25" textLength="44.95" lengthAdjust="spacingAndGlyphs">N/(p</text>
<text x="133.83" y="12.8" font-size="16" textLength="9.94" lengthAdjust="spacingAndGlyphs">T</text>
<text x="151.28" y="0" font-size="25" textLength="25.67" lengthAdjust="spacingAndGlyphs">dy</text>
<text x="184.23" y="0" font-size="25" textLength="22.93" lengthAdjust="spacingAndGlyphs">dp</text>
<text x="208.03" y="12.8" font-size="16" textLength="10.15" lengthAdjust="spacingAndGlyphs">T</text>
<text x="220.38" y="0" font-size="25" textLength="6.78" lengthAdjust="spacingAndGlyphs">)</text>
<text x="233.61" y="0" font-size="25" textLength="57.30" lengthAdjust="spacingAndGlyphs">[GeV</text>
<text x="290.84" y="-12.2" font-size="16" textLength="11.30" lengthAdjust="spacingAndGlyphs">-2</text>
<text x="302.51" y="0" font-size="25" textLength="6.71" lengthAdjust="spacingAndGlyphs">]</text>
</g>
<g transform="translate(36.1,0) rotate(-90)">
<text x="-850.87" y="0" font-size="19" textLength="114.19" lengthAdjust="spacingAndGlyphs">Ratio to STAR</text>
</g>
<text x="54.21" y="45.3" font-size="23" textLength="25.07" lengthAdjust="spacingAndGlyphs">10</text>
<text x="71.7" y="139.8" font-size="23">1</text>
<text x="40.91" y="238.3" font-size="23" textLength="25.07" lengthAdjust="spacingAndGlyphs">10</text>
<text x="64.93" y="229.9" font-size="15" textLength="9.14" lengthAdjust="spacingAndGlyphs">−</text>
<text x="74.36" y="229.2" font-size="15" textLength="5.42" lengthAdjust="spacingAndGlyphs">1</text>
<text x="37.11" y="335.4" font-size="23" textLength="25.07" lengthAdjust="spacingAndGlyphs">10</text>
<text x="61.13" y="326.6" font-size="15" textLength="9.14" lengthAdjust="spacingAndGlyphs">−</text>
<text x="70.44" y="325.9" font-size="15" textLength="9.52" lengthAdjust="spacingAndGlyphs">2</text>
<text x="37.31" y="431.4" font-size="23" textLength="25.07" lengthAdjust="spacingAndGlyphs">10</text>
<text x="61.33" y="421.9" font-size="15" textLength="9.14" lengthAdjust="spacingAndGlyphs">−</text>
<text x="70.92" y="421.2" font-size="15" textLength="8.45" lengthAdjust="spacingAndGlyphs">3</text>
<text x="37.31" y="527.4" font-size="23" textLength="25.07" lengthAdjust="spacingAndGlyphs">10</text>
<text x="61.33" y="517.9" font-size="15" textLength="9.14" lengthAdjust="spacingAndGlyphs">−</text>
<text x="71.16" y="517.2" font-size="15" textLength="8.17" lengthAdjust="spacingAndGlyphs">4</text>
<text x="37.31" y="623.3" font-size="23" textLength="25.07" lengthAdjust="spacingAndGlyphs">10</text>
<text x="61.33" y="613.1" font-size="15" textLength="9.14" lengthAdjust="spacingAndGlyphs">−</text>
<text x="70.86" y="612.4" font-size="15" textLength="8.91" lengthAdjust="spacingAndGlyphs">5</text>
<text x="63.36" y="682.7" font-size="25" textLength="13.67" lengthAdjust="spacingAndGlyphs">2</text>
<text x="747.09" y="682.7" font-size="25" textLength="14.53" lengthAdjust="spacingAndGlyphs">2</text>
<text x="66.92" y="804.5" font-size="25" textLength="13.21" lengthAdjust="spacingAndGlyphs">1</text>
<text x="748.42" y="804.5" font-size="25" textLength="13.21" lengthAdjust="spacingAndGlyphs">1</text>
<text x="45.00" y="925.1" font-size="25" textLength="32.07" lengthAdjust="spacingAndGlyphs">0.5</text>
<text x="747.87" y="925.0" font-size="25" textLength="33.03" lengthAdjust="spacingAndGlyphs">0.5</text>
<text x="84.68" y="978.1" font-size="25" textLength="13.03" lengthAdjust="spacingAndGlyphs">0</text>
<text x="208.80" y="978.1" font-size="25" textLength="32.07" lengthAdjust="spacingAndGlyphs">0.5</text>
<text x="354.32" y="978.0" font-size="25" textLength="13.21" lengthAdjust="spacingAndGlyphs">1</text>
<text x="475.51" y="978.1" font-size="25" textLength="31.44" lengthAdjust="spacingAndGlyphs">1.5</text>
<text x="617.21" y="978.0" font-size="25" textLength="14.28" lengthAdjust="spacingAndGlyphs">2</text>
<text x="649.57" y="1003" font-size="25" textLength="14.10" lengthAdjust="spacingAndGlyphs">p</text>
<text x="662.69" y="1016" font-size="16" textLength="11.02" lengthAdjust="spacingAndGlyphs">T</text>
<text x="680.78" y="1003" font-size="25" textLength="65.13" lengthAdjust="spacingAndGlyphs">[GeV]</text>
</svg>
</body></html>
